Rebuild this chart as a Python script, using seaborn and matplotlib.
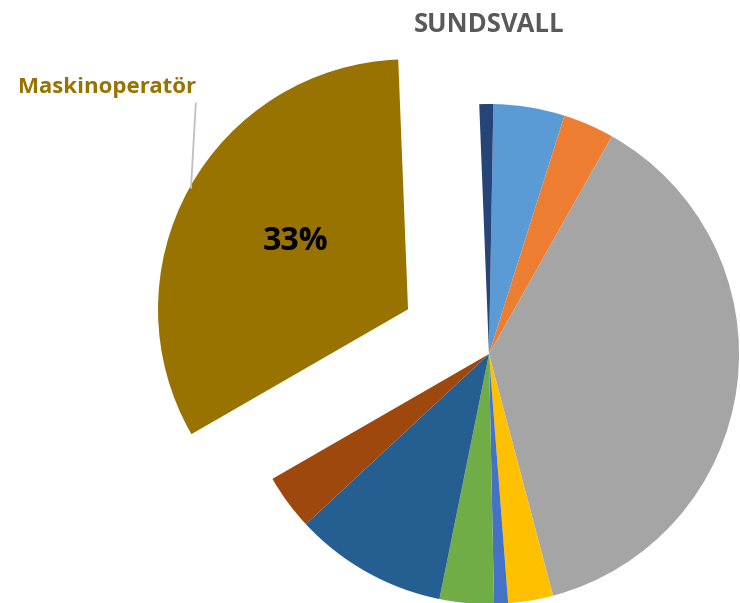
import matplotlib
matplotlib.use("Agg")
import matplotlib.pyplot as plt
import seaborn as sns

# Data (Excel order, clockwise from 12 o'clock)
categories = ["Kategori 1", "Kategori 2", "Kategori 3", "Kategori 4", "Kategori 5",
              "Kategori 6", "Kategori 7", "Kategori 8", "Kategori 9",
              "Maskinoperatör", "Kategori 11"]
values = [4.6, 3.3, 37.7, 2.9, 0.9, 3.5, 9.9, 3.6, 0.0, 32.7, 0.9]
colors = ["#5B9BD5", "#ED7D31", "#A5A5A5", "#FFC000", "#4472C4", "#70AD47",
          "#255E91", "#9E480E", "#636363", "#997300", "#264478"]
highlight = "Maskinoperatör"
title = "SUNDSVALL"

sns.set_theme(style="white")
plt.rcParams["font.family"] = ["Open Sans", "DejaVu Sans"]

fig = plt.figure(figsize=(7.40, 6.03), dpi=100)
ax = fig.add_axes([0, 0, 1, 1])

hi = categories.index(highlight)
explode = [0.37 if i == hi else 0 for i in range(len(values))]

def pct_fmt(p):
    return f"{p:.0f}%" if abs(p - values[hi] / sum(values) * 100) < 1e-6 else ""

wedges, texts, autotexts = ax.pie(
    values, colors=colors, startangle=89, counterclock=False,
    explode=explode, autopct=pct_fmt, pctdistance=0.52,
    wedgeprops=dict(linewidth=0),
    textprops=dict(fontsize=23, fontweight="bold", color="black"),
)
for t in autotexts:
    x, y = t.get_position()
    t.set_position((x + 0.005, y + 0.02))

ax.set_xlim(-1.956, 1.004)
ax.set_ylim(-0.996, 1.416)
ax.set_aspect("auto")
ax.axis("off")

ax.annotate(highlight, xy=(-1.192, 0.664), xytext=(-1.528, 1.064),
            ha="center", va="center", fontsize=16, fontweight="bold",
            color="#997300",
            arrowprops=dict(arrowstyle="-", color="#BFBFBF", lw=1.3,
                            relpos=(1, 0), shrinkA=1, shrinkB=0))

fig.text(489 / 740, 1 - 24 / 603, title, ha="center", va="center",
         fontsize=18.5, fontweight="bold", color="#595959")

fig.savefig("out.png", dpi=100)
